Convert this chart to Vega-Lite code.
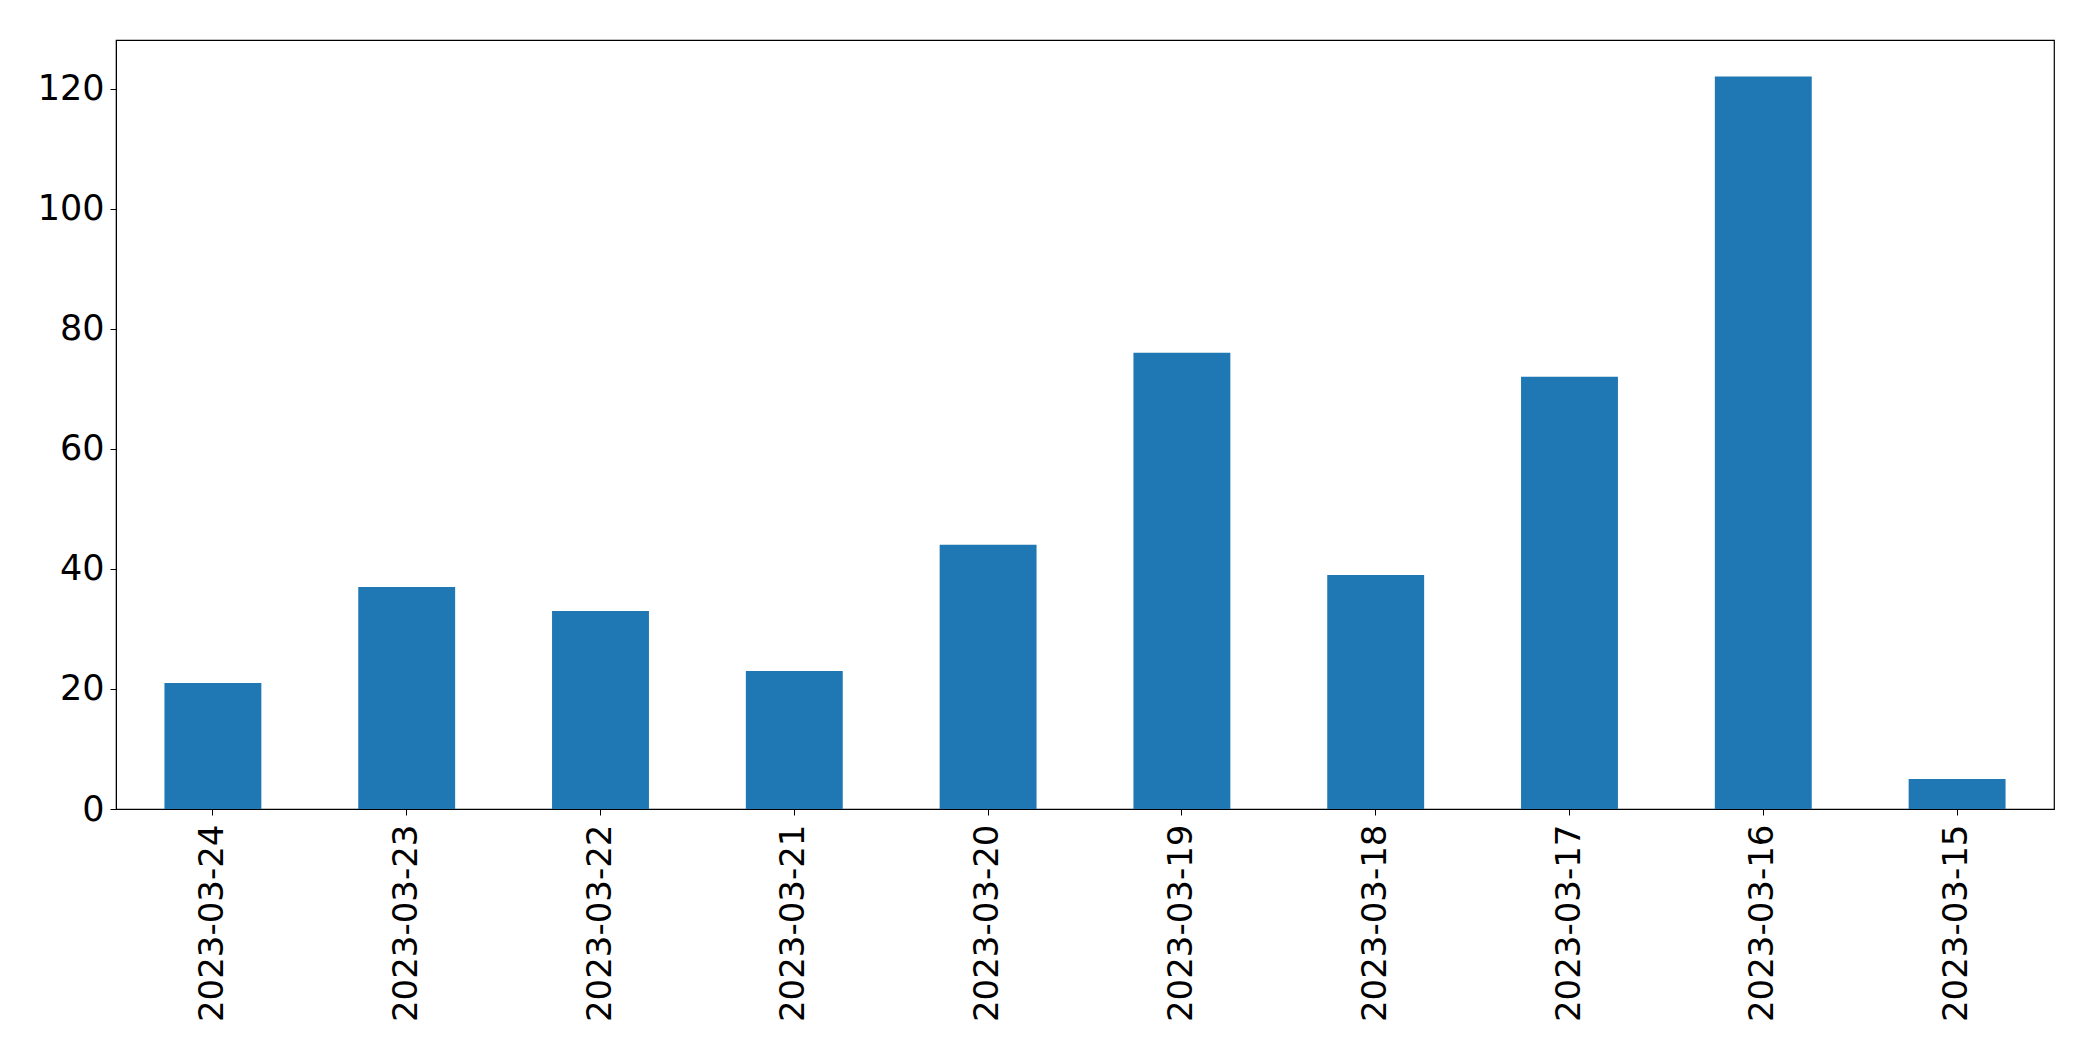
{
  "$schema": "https://vega.github.io/schema/vega-lite/v6.json",
  "width": 1938,
  "height": 769,
  "autosize": "none",
  "padding": {"left": 116, "top": 40, "right": 39, "bottom": 252},
  "background": "white",
  "config": {
    "view": {"stroke": "black", "strokeWidth": 1.2},
    "axis": {
      "labelFont": "DejaVu Sans",
      "labelFontSize": 35,
      "labelColor": "black",
      "labelLimit": 0,
      "tickColor": "black",
      "domainColor": "black",
      "grid": false,
      "tickSize": 6,
      "title": null
    }
  },
  "data": {
    "values": [
      {"date": "2023-03-24", "count": 21},
      {"date": "2023-03-23", "count": 37},
      {"date": "2023-03-22", "count": 33},
      {"date": "2023-03-21", "count": 23},
      {"date": "2023-03-20", "count": 44},
      {"date": "2023-03-19", "count": 76},
      {"date": "2023-03-18", "count": 39},
      {"date": "2023-03-17", "count": 72},
      {"date": "2023-03-16", "count": 122},
      {"date": "2023-03-15", "count": 5}
    ]
  },
  "mark": {"type": "bar", "color": "#1f77b4"},
  "encoding": {
    "x": {
      "field": "date",
      "type": "nominal",
      "sort": null,
      "scale": {"paddingInner": 0.5, "paddingOuter": 0.25},
      "axis": {"labelAngle": -90, "labelPadding": 9, "labelFontSize": 34}
    },
    "y": {
      "field": "count",
      "type": "quantitative",
      "scale": {"domain": [0, 128.1], "nice": false},
      "axis": {"values": [0, 20, 40, 60, 80, 100, 120], "labelPadding": 6}
    }
  }
}
